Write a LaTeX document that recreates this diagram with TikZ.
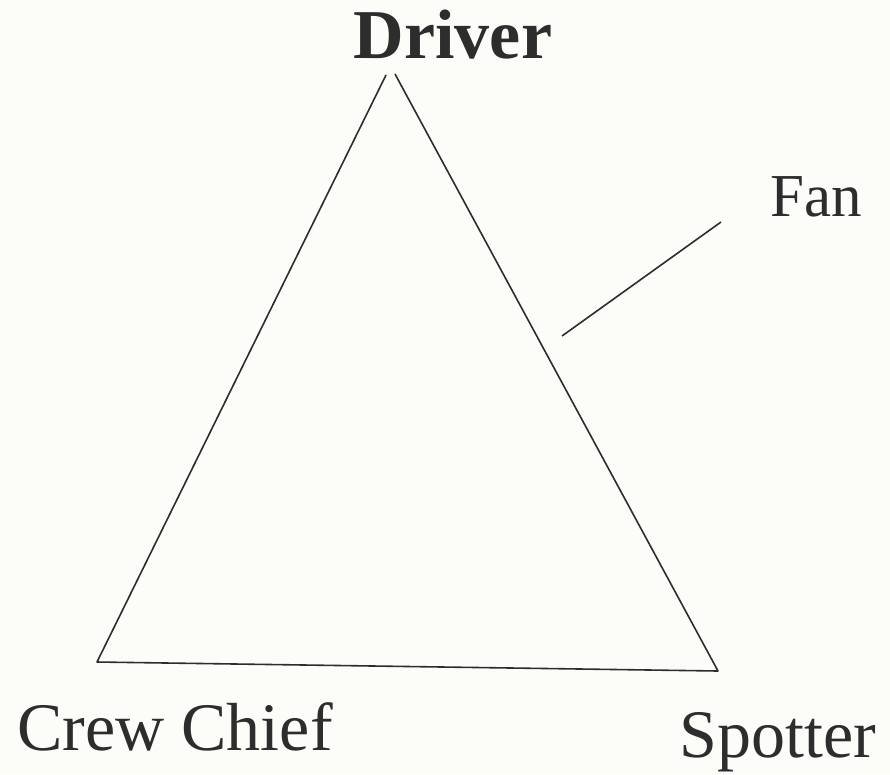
\documentclass[tikz,border=0pt]{standalone}
\usepackage{fontspec}
\setmainfont{Liberation Serif}
\newfontfamily\timesfont{Liberation Serif}
\definecolor{paper}{RGB}{252,252,249}
\definecolor{ink}{RGB}{45,45,45}
\tikzset{role/.style={text=ink,inner sep=0pt,anchor=base,font=\timesfont\fontsize{68}{68}\selectfont}}

\begin{document}
\begin{tikzpicture}[x=1pt,y=-1pt]
   \fill[paper] (0,0) rectangle (890,774);
   \useasboundingbox (0,0) rectangle (890,774);
   \coordinate (topL)  at (386,75);
   \coordinate (topR)  at (395,74);
   \coordinate (chief) at (97,662);
   \coordinate (spot)  at (718,671);
   \coordinate (fanA)  at (562,336);
   \coordinate (fanB)  at (721,222);
   \draw[ink,line width=1.6pt,line join=round] (topL) -- (chief) -- (spot) -- (topR);
   \draw[ink,line width=1.6pt] (fanA) -- (fanB);
   \node[role,font=\timesfont\fontsize{70}{70}\selectfont\bfseries] (driver) at (453,58) {Driver};
   \node[role,font=\timesfont\fontsize{61}{61}\selectfont] (fan) at (816,216) {Fan};
   \node[role] (crew) at (175,750) {Crew Chief};
   \node[role] (spotter) at (778,757) {Spotter};
\end{tikzpicture}
\end{document}
